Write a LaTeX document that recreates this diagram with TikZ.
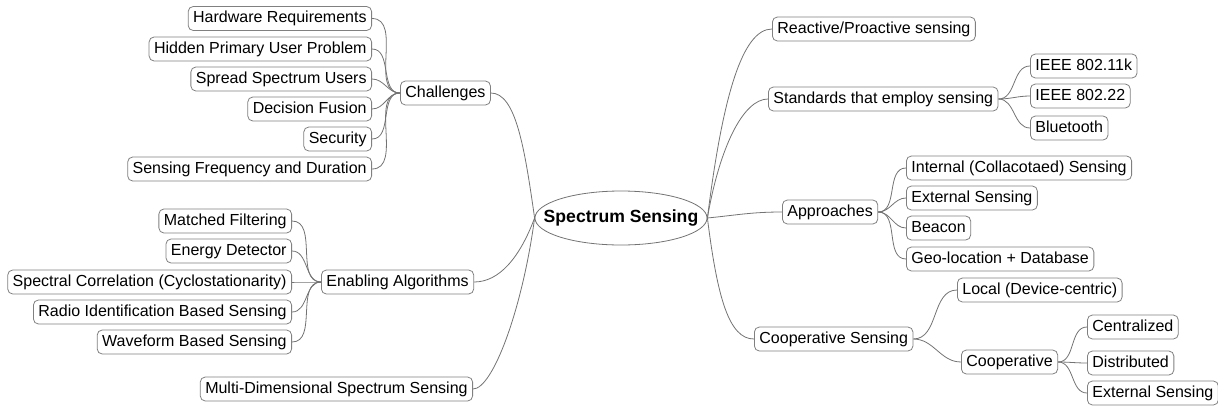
\documentclass[tikz,border=0pt]{standalone}
\usepackage{fontspec}
\setmainfont{Liberation Sans}
\usetikzlibrary{shapes.geometric}
\tikzset{
	topic/.style={draw=black!50, rounded corners=5pt, line width=0.8pt, inner xsep=5pt, inner ysep=4.5pt,
		text height=11.5pt, text depth=3.5pt, font=\fontsize{16}{19}\selectfont},
	hub/.style={draw=black!55, ellipse, line width=0.8pt, minimum width=172pt, minimum height=54pt, inner sep=0pt},
	hubtext/.style={font=\fontsize{17.6}{20}\selectfont\bfseries},
	link/.style={draw=black!55, line width=0.8pt}
}
\begin{document}
\begin{tikzpicture}[x=1pt, y=-1pt]
			\useasboundingbox (0,0) rectangle (1218,407);
			%Centre
			\node[hub, label={[hubtext, name=hublabel]center:Spectrum Sensing}] (hub) at (621,218) {};
			%Left side
			\node[topic, anchor=west] (chal) at (400,93) {Challenges};
			\node[topic, anchor=east] (hw) at (372,18.5) {Hardware Requirements};
			\node[topic, anchor=east] (hidden) at (372,49) {Hidden Primary User Problem};
			\node[topic, anchor=east] (spread) at (372,79) {Spread Spectrum Users};
			\node[topic, anchor=east] (fusion) at (372,109) {Decision Fusion};
			\node[topic, anchor=east] (secur) at (372,139) {Security};
			\node[topic, anchor=east] (freq) at (372,169) {Sensing Frequency and Duration};
			\node[topic, anchor=west] (enab) at (321,282) {Enabling Algorithms};
			\node[topic, anchor=east] (matched) at (292,221) {Matched Filtering};
			\node[topic, anchor=east] (energy) at (292,251) {Energy Detector};
			\node[topic, anchor=east] (spectral) at (292,282) {Spectral Correlation (Cyclostationarity)};
			\node[topic, anchor=east] (radio) at (292,312) {Radio Identification Based Sensing};
			\node[topic, anchor=east] (wave) at (292,342) {Waveform Based Sensing};
			\node[topic, anchor=east] (multi) at (473,389) {Multi-Dimensional Spectrum Sensing};
			%Right side
			\node[topic, anchor=west] (react) at (772,29) {Reactive/Proactive sensing};
			\node[topic, anchor=west] (std) at (768,99) {Standards that employ sensing};
			\node[topic, anchor=west] (ieeek) at (1030,66) {IEEE 802.11k};
			\node[topic, anchor=west] (ieeett) at (1030,96) {IEEE 802.22};
			\node[topic, anchor=west] (bt) at (1030,128) {Bluetooth};
			\node[topic, anchor=west] (appr) at (782,212) {Approaches};
			\node[topic, anchor=west] (internal) at (906,168) {Internal (Collacotaed) Sensing};
			\node[topic, anchor=west] (external) at (906,198) {External Sensing};
			\node[topic, anchor=west] (beacon) at (906,228) {Beacon};
			\node[topic, anchor=west] (geo) at (906,259) {Geo-location + Database};
			\node[topic, anchor=west] (coop) at (754,339) {Cooperative Sensing};
			\node[topic, anchor=west] (local) at (957,290) {Local (Device-centric)};
			\node[topic, anchor=west] (coopsub) at (961,362) {Cooperative};
			\node[topic, anchor=west] (central) at (1087,327) {Centralized};
			\node[topic, anchor=west] (distrib) at (1087,363) {Distributed};
			\node[topic, anchor=west] (extsens) at (1087,393) {External Sensing};
			%Links from the centre
			\draw[link] (chal.east) .. controls +(25,0) and +(-10,-70) .. (hub.west);
			\draw[link] (enab.east) .. controls +(25,0) and +(-15,40) .. (hub.west);
			\draw[link] (multi.east) .. controls +(20,0) and +(-12,90) .. (hub.west);
			\draw[link] (hub.east) .. controls +(15,-120) and +(-30,0) .. (react.west);
			\draw[link] (hub.east) .. controls +(12,-70) and +(-25,0) .. (std.west);
			\draw[link] (hub.east) .. controls +(30,-3) and +(-30,0) .. (appr.west);
			\draw[link] (hub.east) .. controls +(10,80) and +(-25,0) .. (coop.west);
			%Links to the leaves
			\foreach \leaf in {hw,hidden,spread,fusion,secur,freq}
				\draw[link] (chal.west) to[out=180,in=0] (\leaf.east);
			\foreach \leaf in {matched,energy,spectral,radio,wave}
				\draw[link] (enab.west) to[out=180,in=0] (\leaf.east);
			\foreach \leaf in {ieeek,ieeett,bt}
				\draw[link] (std.east) to[out=0,in=180] (\leaf.west);
			\foreach \leaf in {internal,external,beacon,geo}
				\draw[link] (appr.east) to[out=0,in=180] (\leaf.west);
			\foreach \leaf in {local,coopsub}
				\draw[link] (coop.east) to[out=0,in=180] (\leaf.west);
			\foreach \leaf in {central,distrib,extsens}
				\draw[link] (coopsub.east) to[out=0,in=180] (\leaf.west);
			\end{tikzpicture}
\end{document}
